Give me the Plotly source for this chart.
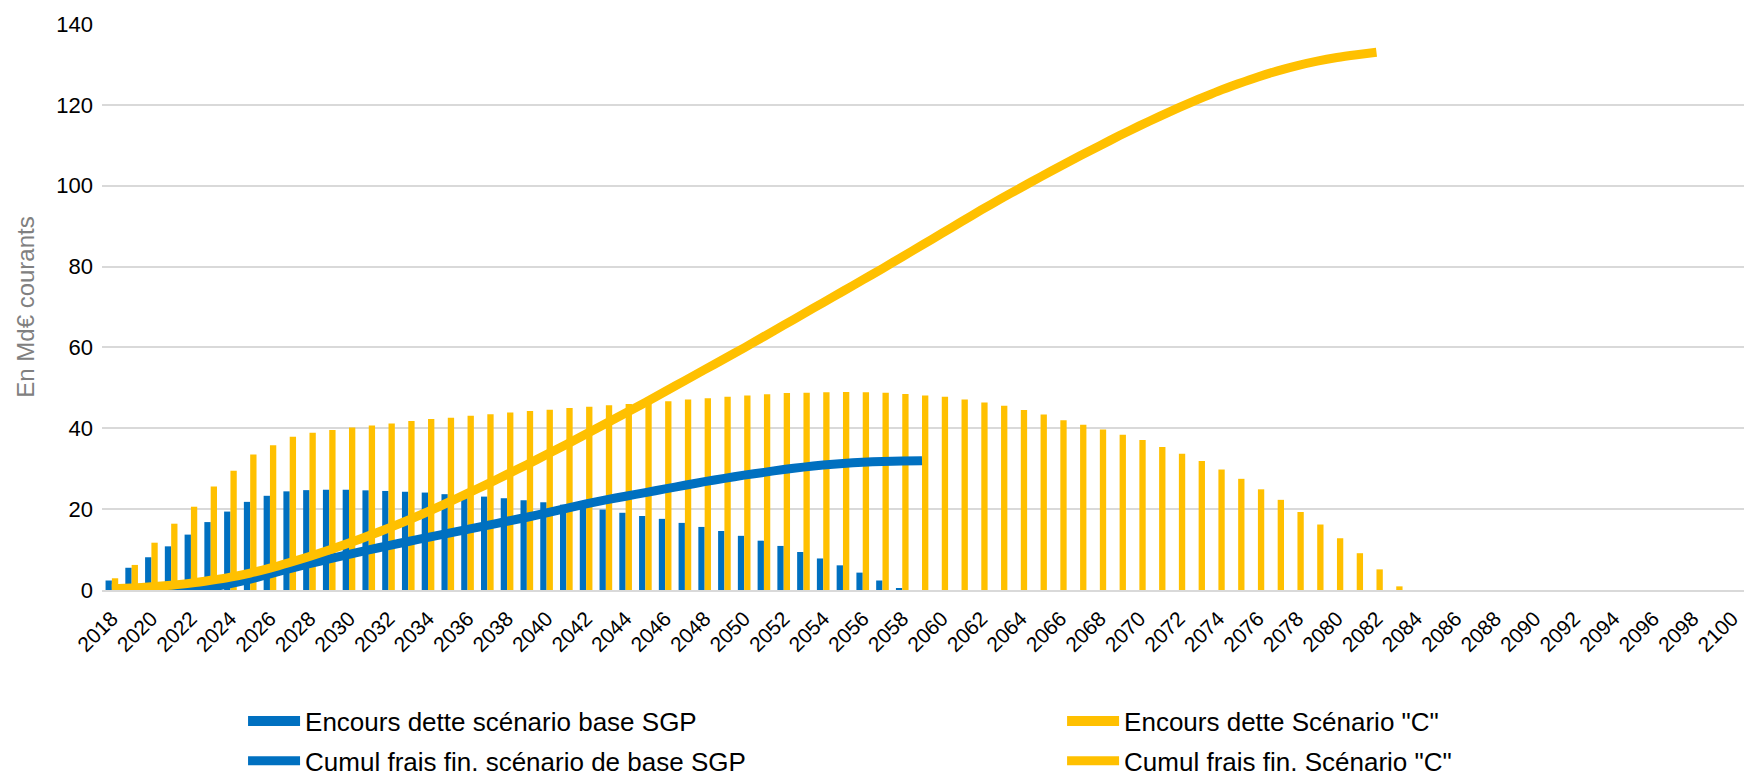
import plotly.graph_objects as go

# ---------------- data ----------------
years = list(range(2018, 2101))

# Encours dette scénario base SGP (2018 -> 2058)
bar_base = [2.35, 5.5, 8.1, 10.8, 13.7, 16.8, 19.4, 21.8, 23.3, 24.4,
            24.7, 24.8, 24.8, 24.65, 24.5, 24.3, 24.1, 23.7, 23.4, 23.1,
            22.7, 22.2, 21.7, 21.1, 20.5, 19.9, 19.1, 18.3, 17.6, 16.6,
            15.6, 14.6, 13.4, 12.2, 10.9, 9.4, 7.8, 6.1, 4.3, 2.35, 0.4]

# Encours dette Scénario "C" (2018 -> 2083)
bar_c = [2.9, 6.2, 11.7, 16.4, 20.6, 25.6, 29.5, 33.5, 35.8, 37.9,
         38.9, 39.6, 40.2, 40.7, 41.2, 41.8, 42.3, 42.6, 43.1, 43.5,
         43.9, 44.3, 44.6, 45.0, 45.3, 45.7, 46.0, 46.4, 46.7, 47.1,
         47.4, 47.8, 48.1, 48.4, 48.7, 48.8, 48.9, 49.0, 48.9, 48.8,
         48.5, 48.1, 47.8, 47.1, 46.4, 45.6, 44.5, 43.4, 42.0, 40.9,
         39.7, 38.4, 37.1, 35.4, 33.7, 31.9, 29.8, 27.5, 24.9, 22.3,
         19.3, 16.2, 12.8, 9.1, 5.1, 0.9]

# Cumul frais fin. scénario de base SGP (2018 -> 2059)
cum_base = [0.0, 0.0, 0.0, 0.1, 0.3, 0.7, 1.6, 2.7, 4.0, 5.3,
            6.5, 7.7, 8.8, 9.9, 11.0, 12.0, 13.0, 14.0, 15.0, 16.0,
            17.0, 18.0, 19.1, 20.2, 21.3, 22.3, 23.2, 24.1, 25.0, 25.9,
            26.8, 27.6, 28.4, 29.1, 29.8, 30.4, 30.9, 31.3, 31.6, 31.8,
            31.9, 32.0]

# Cumul frais fin. Scénario "C" (2018 -> 2082)
cum_c = [0.3, 0.5, 0.8, 1.2, 1.7, 2.4, 3.2, 4.2, 5.4, 6.8,
         8.3, 9.9, 11.6, 13.4, 15.3, 17.3, 19.4, 21.6, 23.9, 26.2,
         28.6, 31.0, 33.5, 36.0, 38.6, 41.2, 43.8, 46.4, 49.1, 51.8,
         54.5, 57.2, 59.9, 62.7, 65.5, 68.3, 71.1, 73.9, 76.7, 79.5,
         82.4, 85.3, 88.2, 91.1, 94.0, 96.8, 99.5, 102.2, 104.8, 107.4,
         109.9, 112.4, 114.8, 117.1, 119.3, 121.4, 123.4, 125.2, 126.9, 128.4,
         129.7, 130.8, 131.7, 132.4, 133.0]

names = ["Encours dette scénario base SGP",
         'Encours dette Scénario "C"',
         "Cumul frais fin. scénario de base SGP",
         'Cumul frais fin. Scénario "C"']

y_ticks = [0, 20, 40, 60, 80, 100, 120, 140]

# ---------------- style ----------------
BLUE = "#0070C0"
YELLOW = "#FFC000"
GRID = "#D9D9D9"
FONT = "Liberation Sans, Arial, sans-serif"

fig = go.Figure()

fig.add_bar(x=years[:len(bar_base)], y=bar_base, name=names[0],
            marker=dict(color=BLUE, line=dict(width=0)), showlegend=False)
fig.add_bar(x=years[:len(bar_c)], y=bar_c, name=names[1],
            marker=dict(color=YELLOW, line=dict(width=0)), showlegend=False)

fig.add_scatter(x=years[:len(cum_base)], y=cum_base, name=names[2], mode="lines",
                line=dict(color=BLUE, width=9, shape="spline", smoothing=0.6),
                showlegend=False)
fig.add_scatter(x=years[:len(cum_c)], y=cum_c, name=names[3], mode="lines",
                line=dict(color=YELLOW, width=9, shape="spline", smoothing=0.6),
                showlegend=False)

# legend entries (column 1: blue, column 2: yellow)
fig.add_scatter(x=[None], y=[None], mode="lines", name=names[0],
                line=dict(color=BLUE, width=14), legend="legend", legendgroup="a")
fig.add_scatter(x=[None], y=[None], mode="lines", name=names[2],
                line=dict(color=BLUE, width=9), legend="legend", legendgroup="b")
fig.add_scatter(x=[None], y=[None], mode="lines", name=names[1],
                line=dict(color=YELLOW, width=14), legend="legend2", legendgroup="c")
fig.add_scatter(x=[None], y=[None], mode="lines", name=names[3],
                line=dict(color=YELLOW, width=9), legend="legend2", legendgroup="d")

legend_common = dict(orientation="v", yanchor="top", xanchor="left",
                     font=dict(family=FONT, size=26, color="#000000"),
                     bgcolor="rgba(0,0,0,0)", itemwidth=52, tracegroupgap=3,
                     itemclick=False, itemdoubleclick=False)

fig.update_layout(
    width=1744, height=781,
    margin=dict(l=102, r=0, t=24, b=191, pad=0, autoexpand=False),
    paper_bgcolor="white", plot_bgcolor="white",
    font=dict(family=FONT, color="#000000"),
    barmode="group", bargap=0.36, bargroupgap=0,
    legend=dict(x=0.0859, y=-0.1901, **legend_common),
    legend2=dict(x=0.5847, y=-0.1901, **legend_common),
    xaxis=dict(range=[2017.5, 2100.6], tickmode="linear", tick0=2018, dtick=2,
               tickangle=-45, tickfont=dict(size=21, color="#000000"),
               showgrid=False, zeroline=False, showline=True, linecolor=GRID,
               linewidth=2, ticks="", ticklabelstandoff=6, automargin=False,
               ticklabeloverflow="allow"),
    yaxis=dict(range=[0, 140], tickvals=y_ticks, ticktext=[str(v) for v in y_ticks],
               tickfont=dict(size=22, color="#000000"),
               showgrid=True, gridcolor=GRID, gridwidth=1.5, zeroline=False,
               showline=False, ticks="", ticklabelstandoff=8, automargin=False,
               title=dict(text="En Md€ courants", standoff=14,
                          font=dict(size=24, color="#808080"))),
)

fig.write_html("out.html",
               config={"displayModeBar": False},
               post_script="document.body.style.margin='0px';"
                           "document.body.style.overflow='hidden';")
